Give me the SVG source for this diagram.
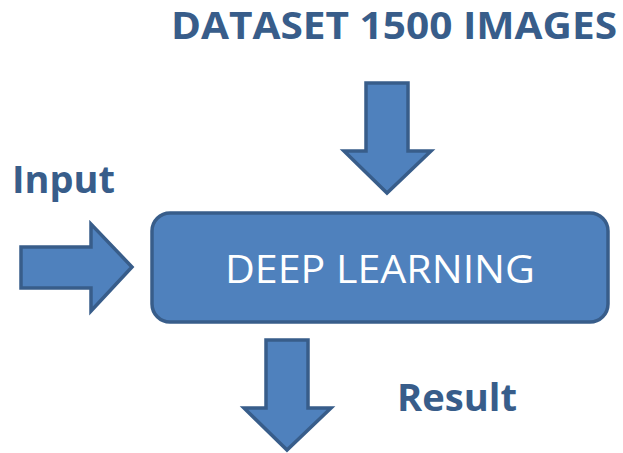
<svg xmlns="http://www.w3.org/2000/svg" width="623" height="453" viewBox="0 0 623 453">
<style>
.shape{fill:#4F81BD;stroke:#385D8A;stroke-width:3.5;stroke-linejoin:miter}
.lbl{font-family:"Open Sans","Liberation Sans",sans-serif;font-weight:bold;fill:#385D8A}
.inner{font-family:"Open Sans","Liberation Sans",sans-serif;fill:#FFFFFF}
</style>
<g id="dataset-label"><text class="lbl" x="171" y="39" font-size="37" textLength="446" lengthAdjust="spacingAndGlyphs">DATASET 1500 IMAGES</text></g>
<g id="input-label"><text class="lbl" x="12" y="193" font-size="38" textLength="103" lengthAdjust="spacingAndGlyphs">Input</text></g>
<g id="result-label"><text class="lbl" x="397" y="411" font-size="38" textLength="120" lengthAdjust="spacingAndGlyphs">Result</text></g>
<g id="deep-learning">
<rect class="shape" x="152" y="213" width="456" height="109" rx="18" ry="18"/>
<text class="inner" x="380" y="283" font-size="38" text-anchor="middle" textLength="310" lengthAdjust="spacingAndGlyphs">DEEP LEARNING</text>
</g>
<g id="connectors">
<polygon id="arrow-dataset" class="shape" points="366,83 408,83 408,151 431,151 387,193 344,151 366,151"/>
<polygon id="arrow-input" class="shape" points="21,247 91,247 91,224 132,267 91,311 91,288 21,288"/>
<polygon id="arrow-result" class="shape" points="266,340 308,340 308,408 331,408 287,450 244,408 266,408"/>
</g>
</svg>
